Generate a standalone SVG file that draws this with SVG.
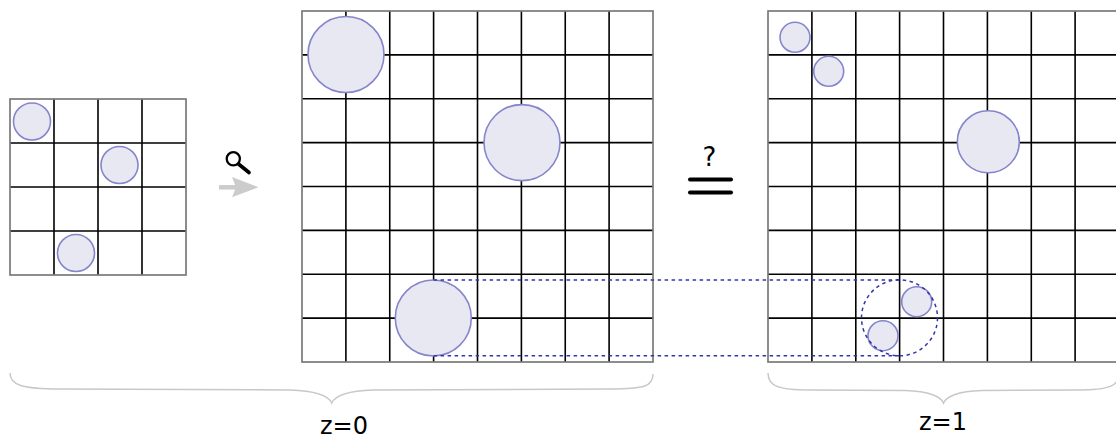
<svg xmlns="http://www.w3.org/2000/svg" width="1116" height="439" viewBox="0 0 1116 439">
<style>
.bg{fill:#ffffff}
.grid{stroke:#000000;stroke-width:1.6;fill:none}
.border{stroke:#7a7a7a;stroke-width:1.7;fill:none}
.dot{fill:#e8e8f2;stroke:#8585cc;stroke-width:1.6}
.dash{stroke:#3535aa;stroke-width:1.5;fill:none;stroke-dasharray:3.5 3.5}
.brace{stroke:#c8c8c8;stroke-width:1.5;fill:none}
.lbl{font-family:"DejaVu Sans",sans-serif;font-size:24px;fill:#000000;text-anchor:middle}
</style>
<rect class="bg" x="0" y="0" width="1116" height="439"/>
<g id="grid-small">
<path class="grid" d="M54,99V275M98,99V275M142,99V275M10,143H186M10,187H186M10,231H186"/>
<rect class="border" x="10" y="99" width="176" height="176"/>
<circle class="dot" cx="32" cy="121.5" r="18.5"/>
<circle class="dot" cx="119.5" cy="165" r="18.5"/>
<circle class="dot" cx="76" cy="253" r="18.5"/>
</g>
<g id="zoom-arrow">
<circle cx="233.3" cy="158.8" r="6.6" fill="none" stroke="#000" stroke-width="2.3"/>
<line x1="238.5" y1="164" x2="249" y2="172.5" stroke="#000" stroke-width="3.6" stroke-linecap="round"/>
<line x1="219" y1="187.3" x2="236" y2="187.3" stroke="#cccccc" stroke-width="4.5"/>
<polygon points="232,177 258.5,187.3 232,197.3 236,187.3" fill="#cccccc"/>
</g>
<g id="grid-z0">
<path class="grid" d="M345.9,11V362M389.75,11V362M433.6,11V362M477.5,11V362M521.4,11V362M565.25,11V362M609.1,11V362M302,54.9H653M302,98.75H653M302,142.6H653M302,186.5H653M302,230.4H653M302,274.25H653M302,318.1H653"/>
<rect class="border" x="302" y="11" width="351" height="351"/>
<circle class="dot" cx="346" cy="54.5" r="38"/>
<circle class="dot" cx="522" cy="142.6" r="38"/>
<circle class="dot" cx="433.3" cy="318" r="38"/>
</g>
<g id="equals-q">
<text x="709.5" y="166" style="font-family:'DejaVu Sans',sans-serif;font-size:26px;text-anchor:middle;fill:#000">?</text>
<line x1="690" y1="179.5" x2="731" y2="179.5" stroke="#000" stroke-width="4" stroke-linecap="round"/>
<line x1="690" y1="192.5" x2="731" y2="192.5" stroke="#000" stroke-width="4" stroke-linecap="round"/>
</g>
<g id="grid-z1">
<path class="grid" d="M811.9,11V362M855.8,11V362M899.6,11V362M943.5,11V362M987.4,11V362M1031.3,11V362M1075.1,11V362M768,54.9H1119M768,98.75H1119M768,142.6H1119M768,186.5H1119M768,230.4H1119M768,274.25H1119M768,318.1H1119"/>
<rect class="border" x="768" y="11" width="351" height="351"/>
<circle class="dot" cx="795" cy="37.3" r="15"/>
<circle class="dot" cx="828.7" cy="71.3" r="15"/>
<circle class="dot" cx="988.3" cy="141.8" r="31"/>
<circle class="dot" cx="916.7" cy="301.7" r="15"/>
<circle class="dot" cx="883" cy="335.7" r="15"/>
</g>
<g id="connectors">
<line class="dash" x1="433.6" y1="280" x2="899.5" y2="280"/>
<line class="dash" x1="433.6" y1="355.7" x2="899.5" y2="355.7"/>
<circle class="dash" cx="899.5" cy="317.8" r="38"/>
</g>
<g id="brace-z0">
<path class="brace" d="M10,373 C10,385 22,389 60,389 L290,390 C318,391 329,397 331.7,403 C334.5,397 345,391 373,390 L610,389 C645,389 653,386 653,374"/>
<text class="lbl" x="344" y="434">z=0</text>
</g>
<g id="brace-z1">
<path class="brace" d="M768,373 C768,386 778,390 810,390 L905,390.5 C930,391 941,397 943.5,403 C946,397 957,391 982,390.5 L1077,390 C1110,390 1119,386 1119,373"/>
<text class="lbl" x="943" y="430">z=1</text>
</g>
</svg>
